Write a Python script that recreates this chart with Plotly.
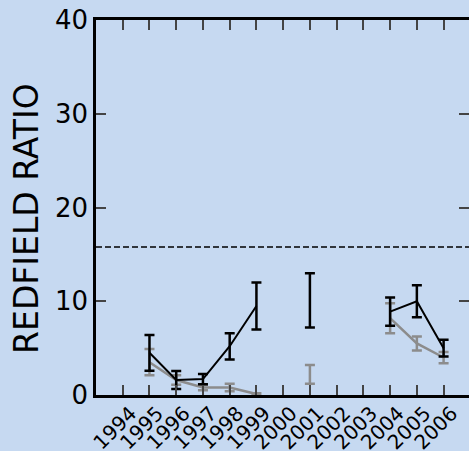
import plotly.graph_objects as go

years = [1995, 1996, 1997, 1998, 1999, 2000, 2001, 2002, 2003, 2004, 2005, 2006]
black_vals = [4.5, 1.6, 1.7, 5.2, 9.5, None, 10.1, None, None, 8.9, 10.0, 5.0]
black_err = [1.9, 0.95, 0.55, 1.4, 2.5, None, 2.9, None, None, 1.5, 1.7, 0.9]
gray_vals = [3.5, 1.6, 0.8, 0.8, 0.1, None, 2.2, None, None, 8.2, 5.5, 4.0]
gray_err = [1.4, 0.5, 0.3, 0.4, 0.1, None, 1.0, None, None, 1.6, 0.75, 0.6]
tick_years = list(range(1994, 2007))
tick_labels = [str(y) for y in tick_years]
y_ticks = [0, 10, 20, 30, 40]
redfield = 15.8

BG = "#C6D9F1"
FONT = "DejaVu Sans"

fig = go.Figure()
fig.add_trace(go.Scatter(
    x=years, y=gray_vals, mode="lines",
    line=dict(color="#8C8C8C", width=2.5),
    error_y=dict(type="data", array=gray_err, color="#8C8C8C", thickness=2.5, width=5),
    connectgaps=False, showlegend=False))
fig.add_trace(go.Scatter(
    x=years, y=black_vals, mode="lines",
    line=dict(color="black", width=2),
    error_y=dict(type="data", array=black_err, color="black", thickness=2.5, width=5),
    connectgaps=False, showlegend=False))

fig.add_shape(type="line", xref="paper", yref="y", x0=0, x1=1, y0=redfield, y1=redfield,
              line=dict(color="black", width=1.5, dash="6px,3px"))

fig.update_layout(
    width=469, height=451,
    margin=dict(l=96, r=0, t=20, b=56),
    paper_bgcolor=BG, plot_bgcolor=BG,
    font=dict(family=FONT, color="black"),
    xaxis=dict(range=[1993, 2006.95], tickvals=tick_years, ticktext=tick_labels,
               tickangle=-45, ticks="inside", ticklen=10, tickwidth=2,
               showline=True, linewidth=2.5, linecolor="black", mirror="ticks",
               showgrid=False, zeroline=False, tickfont=dict(size=20), automargin=False,
               ticklabeloverflow="allow", ticklabelshift=8, ticklabelstandoff=-4),
    yaxis=dict(range=[0, 40], tickvals=y_ticks, ticks="inside", ticklen=10, tickwidth=2,
               showline=True, linewidth=2.5, linecolor="black", mirror="ticks",
               showgrid=False, zeroline=False, tickfont=dict(size=26), automargin=False,
               ticklabeloverflow="allow"),
    annotations=[dict(text="REDFIELD RATIO", textangle=-90, xref="paper", yref="paper",
                      x=-0.188, y=0.472, xanchor="center", yanchor="middle", showarrow=False,
                      font=dict(size=33, family=FONT))],
)

fig.write_html("out.html", post_script="document.body.style.margin='0';",
               config={"displayModeBar": False})
